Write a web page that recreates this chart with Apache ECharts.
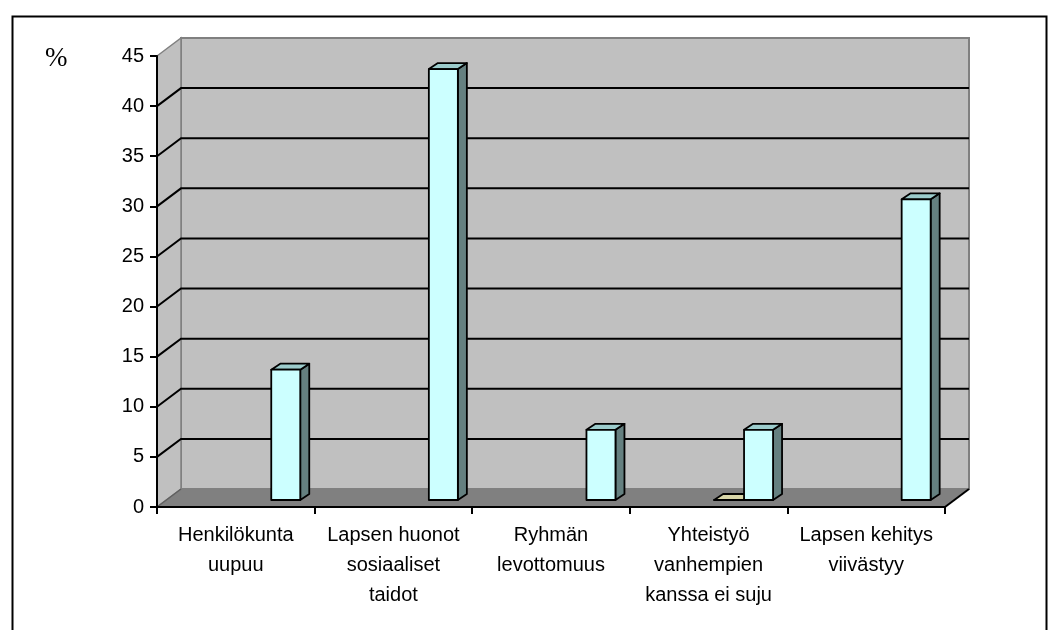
<!DOCTYPE html>
<html>
<head>
<meta charset="utf-8">
<script src="https://cdn.jsdelivr.net/npm/echarts@6/dist/echarts.min.js"></script>
<style>
  html, body { margin: 0; padding: 0; background: #fff; }
  #chart { width: 1056px; height: 630px; }
</style>
</head>
<body>
<div id="chart"></div>
<script>
var categories = [
  'Henkilökunta\nuupuu',
  'Lapsen huonot\nsosiaaliset\ntaidot',
  'Ryhmän\nlevottomuus',
  'Yhteistyö\nvanhempien\nkanssa ei suju',
  'Lapsen kehitys\nviivästyy'
];
var tanValues = [null, null, null, 0, null];
var cyanValues = [13, 43, 7, 7, 30];
var yMin = 0, yMax = 45, yStep = 5;

// 3D look
var DEPTH_X = 24, DEPTH_Y = -18;
var BAR_W = 29, BAR_DX = 9, BAR_DY = -6, BAR_LIFT = 7;

function toPairs(arr) {
  var out = [];
  arr.forEach(function (v, i) { if (v !== null) out.push([i, v]); });
  return out;
}

function wallsItem(params, api) {
  var cs = params.coordSys;
  var left = cs.x, top = cs.y, right = cs.x + cs.width, bottom = cs.y + cs.height;
  var kids = [];
  // back wall
  kids.push({ type: 'rect', shape: { x: left + DEPTH_X, y: top + DEPTH_Y, width: cs.width, height: cs.height },
    style: { fill: '#c0c0c0', stroke: '#808080', lineWidth: 2 } });
  // side wall
  kids.push({ type: 'polygon', shape: { points: [[left, bottom], [left, top], [left + DEPTH_X, top + DEPTH_Y], [left + DEPTH_X, bottom + DEPTH_Y]] },
    style: { fill: '#c0c0c0', stroke: '#808080', lineWidth: 1.5 } });
  // gridlines
  for (var v = yMin + yStep; v < yMax; v += yStep) {
    var y = api.coord([0, v])[1];
    kids.push({ type: 'polyline', shape: { points: [[left, y], [left + DEPTH_X, y + DEPTH_Y], [right + DEPTH_X, y + DEPTH_Y]] },
      style: { fill: null, stroke: '#000', lineWidth: 2 } });
  }
  // floor
  kids.push({ type: 'polygon', shape: { points: [[left, bottom], [right, bottom], [right + DEPTH_X, bottom + DEPTH_Y], [left + DEPTH_X, bottom + DEPTH_Y]] },
    style: { fill: '#808080', stroke: null } });
  kids.push({ type: 'line', shape: { x1: right, y1: bottom, x2: right + DEPTH_X, y2: bottom + DEPTH_Y },
    style: { stroke: '#000', lineWidth: 2 } });
  kids.push({ type: 'line', shape: { x1: left, y1: bottom, x2: left + DEPTH_X, y2: bottom + DEPTH_Y },
    style: { stroke: '#606060', lineWidth: 1.5 } });
  return { type: 'group', children: kids };
}

function barRenderer(offset, front, side, topC) {
  return function (params, api) {
    var i = api.value(0), val = api.value(1);
    var base = api.coord([i, 0]);
    var topPt = api.coord([i, val]);
    var bw = api.size([1, 0])[0];
    var x0 = base[0] - bw / 2 + offset * bw;
    var yb = base[1] - BAR_LIFT;
    var yt = topPt[1] - BAR_LIFT;
    var x1 = x0 + BAR_W;
    var st = { stroke: '#000', lineWidth: 1.8, lineJoin: 'round' };
    return { type: 'group', children: [
      { type: 'polygon', shape: { points: [[x1, yb], [x1, yt], [x1 + BAR_DX, yt + BAR_DY], [x1 + BAR_DX, yb + BAR_DY]] },
        style: Object.assign({ fill: side }, st) },
      { type: 'polygon', shape: { points: [[x0, yt], [x1, yt], [x1 + BAR_DX, yt + BAR_DY], [x0 + BAR_DX, yt + BAR_DY]] },
        style: Object.assign({ fill: topC }, st) },
      { type: 'rect', shape: { x: x0, y: yt, width: BAR_W, height: yb - yt },
        style: Object.assign({ fill: front }, st) }
    ] };
  };
}

var chart = echarts.init(document.getElementById('chart'), null, { renderer: 'canvas' });
chart.setOption({
  animation: false,
  title: {
    text: '%', left: 40, top: 40,
    textStyle: { fontFamily: 'Liberation Serif', fontSize: 27, fontWeight: 'normal', color: '#000' }
  },
  graphic: [{
    type: 'rect', left: 10, top: 14, z: -10,
    shape: { width: 1034, height: 640 },
    style: { fill: 'none', stroke: '#000', lineWidth: 2 }
  }],
  grid: { left: 157, right: 111, top: 56, bottom: 123, containLabel: false },
  xAxis: {
    type: 'category',
    data: categories,
    boundaryGap: true,
    axisLine: { lineStyle: { color: '#000', width: 2 } },
    axisTick: { show: true, length: 7, lineStyle: { color: '#000', width: 2 } },
    axisLabel: {
      interval: 0, margin: 13, color: '#000',
      fontFamily: 'Liberation Sans', fontSize: 20, lineHeight: 30, align: 'center'
    },
    splitLine: { show: false },
    z: 10
  },
  yAxis: {
    type: 'value',
    min: yMin, max: yMax, interval: yStep,
    axisLine: { show: true, lineStyle: { color: '#000', width: 2 } },
    axisTick: { show: true, length: 7, lineStyle: { color: '#000', width: 2 } },
    axisLabel: { margin: 13, color: '#000', fontFamily: 'Liberation Sans', fontSize: 20 },
    splitLine: { show: false },
    z: 10
  },
  series: [
    {
      type: 'custom', name: 'walls', z: 1, silent: true,
      data: [[0, 0]],
      renderItem: wallsItem
    },
    {
      type: 'custom', name: 'Sarja 1', z: 2,
      data: toPairs(tanValues),
      renderItem: barRenderer(0.535, '#d8d6a8', '#a8a680', '#d8d6a8')
    },
    {
      type: 'custom', name: 'Sarja 2', z: 3,
      data: toPairs(cyanValues),
      renderItem: barRenderer(0.725, '#ccffff', '#658080', '#9ccccc')
    }
  ]
});
</script>
</body>
</html>
